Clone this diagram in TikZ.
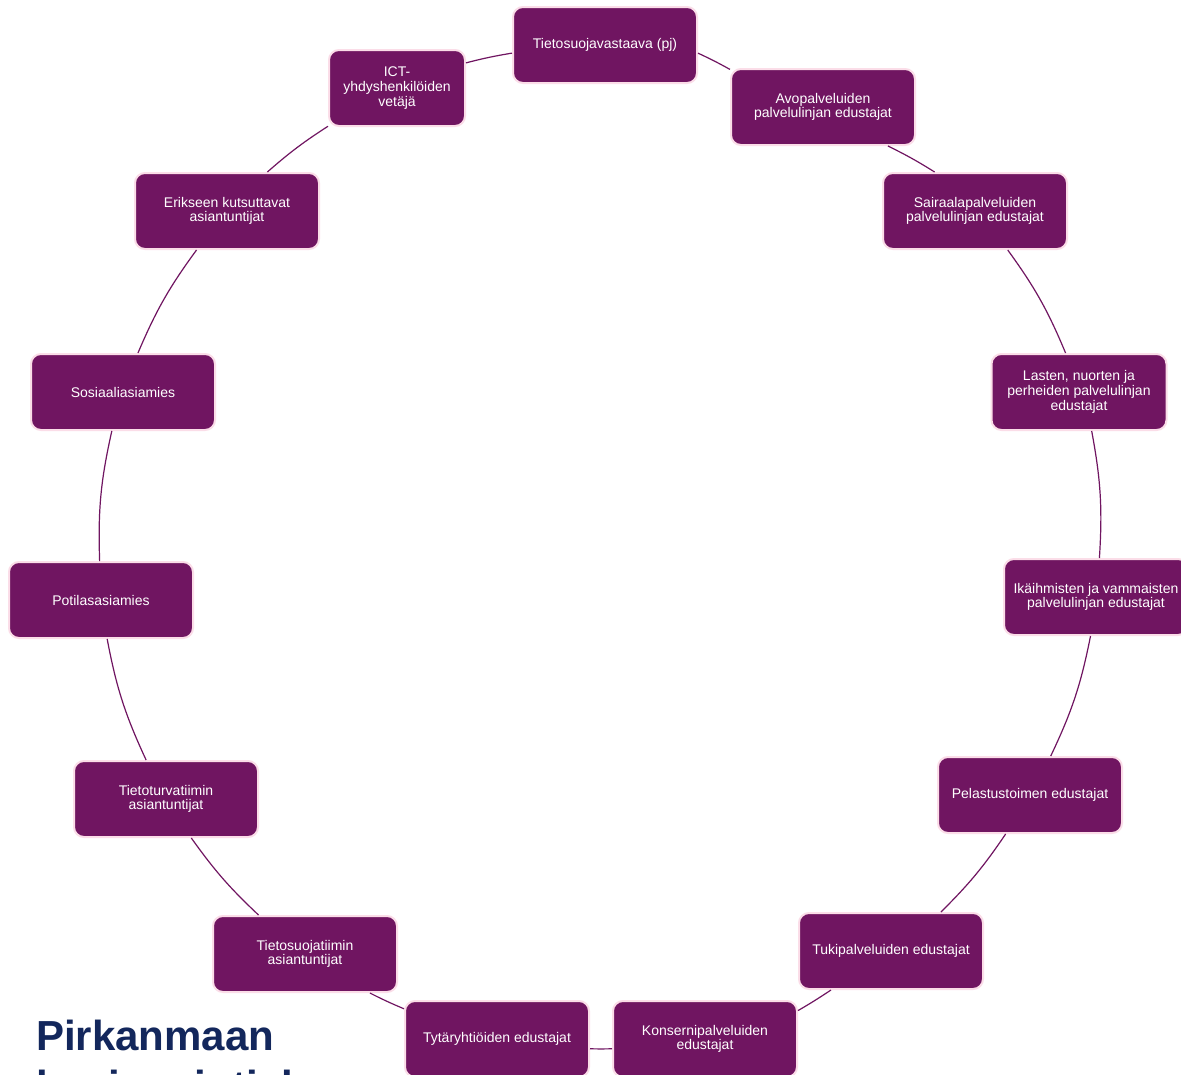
\documentclass[tikz,border=0pt]{standalone}
\usepackage{fontspec}
\setmainfont{Liberation Sans}
\definecolor{nodefill}{HTML}{701561}
\definecolor{nodeborder}{HTML}{FBDDE8}
\definecolor{titlecol}{HTML}{13275C}
\tikzset{
  box/.style={rectangle, rounded corners=10pt, fill=nodefill, draw=nodeborder,
    line width=2pt, text=white, minimum width=184pt, minimum height=76pt,
    align=center, inner sep=2pt, font=\fontsize{14}{14.7}\selectfont},
  link/.style={draw=nodefill, line width=1.2pt},
}
\begin{document}
\begin{tikzpicture}[x=1pt,y=1pt]
\clip (0,0) rectangle (1181,-1074);
\fill[white] (0,0) rectangle (1181,-1074);

\node[box] (n1)  at (605,-45)  {Tietosuojavastaava (pj)};
\node[box] (n2)  at (823,-107) {Avopalveluiden\\palvelulinjan edustajat};
\node[box] (n3)  at (975,-211) {Sairaalapalveluiden\\palvelulinjan edustajat};
\node[box, minimum width=175pt] (n4)  at (1079,-392) {Lasten, nuorten ja\\perheiden palvelulinjan\\edustajat};
\node[box] (n5)  at (1096,-597) {Ikäihmisten ja vammaisten\\palvelulinjan edustajat};
\node[box] (n6)  at (1030,-795) {Pelastustoimen edustajat};
\node[box] (n7)  at (891,-951)  {Tukipalveluiden edustajat};
\node[box] (n8)  at (705,-1039) {Konsernipalveluiden\\edustajat};
\node[box] (n9)  at (497,-1039) {Tytäryhtiöiden edustajat};
\node[box] (n10) at (305,-954)  {Tietosuojatiimin\\asiantuntijat};
\node[box] (n11) at (166,-799)  {Tietoturvatiimin\\asiantuntijat};
\node[box] (n12) at (101,-600)  {Potilasasiamies};
\node[box] (n13) at (123,-392)  {Sosiaaliasiamies};
\node[box] (n14) at (227,-211)  {Erikseen kutsuttavat\\asiantuntijat};
\node[box, minimum width=136pt] (n15) at (397,-88) {ICT-\\yhdyshenkilöiden\\vetäjä};

\path[link] (n1.-5.5)   to[bend left=2]   (n2.158.8);
\path[link] (n2.-31.2)  to[bend left=2.9] (n3.136.4);
\path[link] (n3.-50.5)  to[bend left=6.7] (n4.109.3);
\path[link] (n4.-72.4)  to[bend left=7.1] (n5.85.7);
\path[link] (n5.-98.5)  to[bend left=7.1] (n6.62.3);
\path[link] (n6.-122.4) to[bend left=5.6] (n7.38.7);
\path[link] (n7.-147.8) to[bend left=1.8] (n8.17.7);
\path[link] (n8.186.7)  to[bend left=1.2] (n9.-6.7);
\path[link] (n9.162.7)  to[bend left=2]   (n10.-31.8);
\path[link] (n10.140.2) to[bend left=5.6] (n11.-57.6);
\path[link] (n11.117.7) to[bend left=7.1] (n12.-81.7);
\path[link] (n12.92.9)  to[bend left=7.3] (n13.-106.3);
\path[link] (n13.69.4)  to[bend left=6.6] (n14.-128);
\path[link] (n14.44.3)  to[bend left=4.2] (n15.-151.5);
\path[link] (n15.20.4)  to[bend left=2.6] (n1.-175.7);

\node[anchor=north west, align=left, inner sep=0pt, text=titlecol,
  font=\fontsize{42}{50}\selectfont\bfseries] (title) at (36,-1020)
  {Pirkanmaan\\hyvinvointialue};
\end{tikzpicture}
\end{document}
